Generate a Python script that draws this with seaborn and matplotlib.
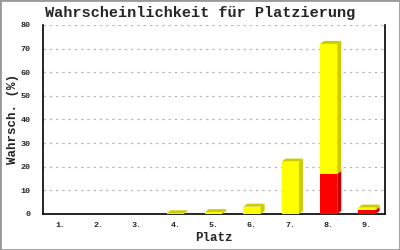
import matplotlib
matplotlib.use("Agg")
import matplotlib.pyplot as plt
from matplotlib.patches import Polygon, Rectangle
import seaborn as sns
import pandas as pd

categories = ["1.", "2.", "3.", "4.", "5.", "6.", "7.", "8.", "9."]
total = [0, 0, 0, 0.3, 0.8, 3.1, 22.2, 72.0, 2.7]
red = [0, 0, 0, 0, 0, 0, 0, 17.0, 1.7]
yticks = [0, 10, 20, 30, 40, 50, 60, 70, 80]

sns.set_style("white")
plt.rcParams["font.family"] = ["Liberation Mono", "DejaVu Sans Mono"]

df = pd.DataFrame({"Platz": categories, "total": total, "red": red})

fig = plt.figure(figsize=(4, 2.5), dpi=100)
ax = fig.add_axes([0.1075, 0.144, 0.855, 0.756])

sns.barplot(data=df, x="Platz", y="total", color="#FFFF00", saturation=1,
            width=0.45, ax=ax, linewidth=0, zorder=3)
sns.barplot(data=df, x="Platz", y="red", color="#FF0000", saturation=1,
            width=0.45, ax=ax, linewidth=0, zorder=4)

ax.set_xlim(-0.45, 8.47)
ax.set_ylim(0, 80)
ax.set_yticks(yticks)
ax.yaxis.grid(True, linestyle=(0, (2, 3)), color="#bbbbbb", linewidth=0.9, zorder=0)
ax.set_axisbelow(True)

ax.spines["top"].set_visible(False)
for s in ["left", "bottom", "right"]:
    ax.spines[s].set_visible(True)
    ax.spines[s].set_color("black")
    ax.spines[s].set_linewidth(1.2)

ax.tick_params(axis="y", length=4, width=1, color="black", pad=5, labelsize=6)
ax.tick_params(axis="x", length=0, pad=6, labelsize=6)
for lab in ax.get_xticklabels() + ax.get_yticklabels():
    lab.set_fontweight("bold")

ax.set_xlabel("Platz", fontsize=9, fontweight="bold", labelpad=2)
ax.set_ylabel("Wahrsch. (%)", fontsize=9, fontweight="bold")
ax.yaxis.set_label_coords(-0.07, 0.5)
fig.suptitle("Wahrscheinlichkeit für Platzierung", fontsize=11, fontweight="bold",
             y=0.975)

# 3D side/top faces in display coordinates
dx, dy = 4, 3
n = len(categories)
patches = list(ax.patches)
ypatches = patches[:n]
td = ax.transData


def add_faces(x0, x1, y0, y1, side_col, top_col, draw_top):
    (px0, py0) = td.transform((x0, y0))
    (px1, py1) = td.transform((x1, y1))
    side = Polygon([(px1, py0), (px1 + dx, py0 + dy), (px1 + dx, py1 + dy), (px1, py1)],
                   closed=True, transform=None, facecolor=side_col, edgecolor="none",
                   zorder=5)
    fig.patches.append(side)
    if draw_top:
        top = Polygon([(px0, py1), (px0 + dx, py1 + dy), (px1 + dx, py1 + dy), (px1, py1)],
                      closed=True, transform=None, facecolor=top_col, edgecolor="none",
                      zorder=5)
        fig.patches.append(top)


for i in range(n):
    yp = ypatches[i]
    x0 = yp.get_x()
    x1 = x0 + yp.get_width()
    t = total[i]
    r = red[i]
    if r > 0:
        add_faces(x0, x1, 0, r, "#CC0000", "#CC0000", t <= r)
    if t > r:
        add_faces(x0, x1, r, t, "#CCCC00", "#CCCC00", True)

fig.patches.append(Rectangle((0, 0), 1, 1, transform=fig.transFigure, fill=False,
                             edgecolor="#999999", linewidth=2, zorder=10))

fig.savefig("out.png", dpi=100)
